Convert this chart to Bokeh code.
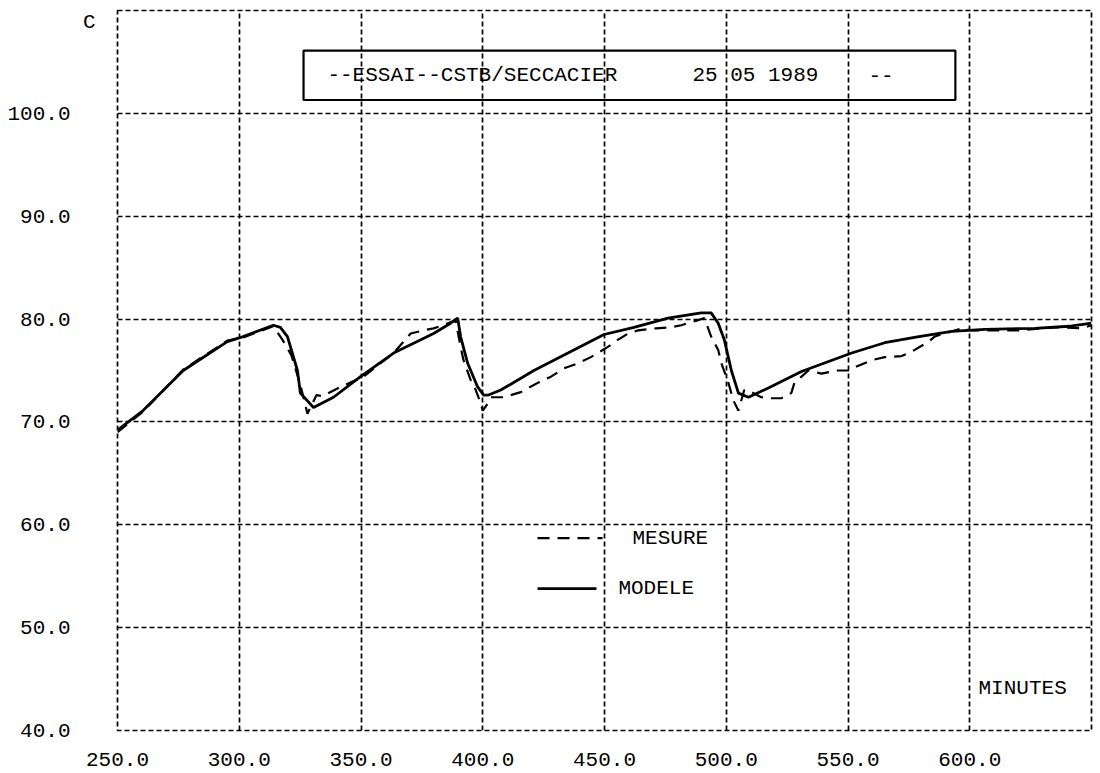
from bokeh.plotting import figure
from bokeh.models import FixedTicker, Label, BoxAnnotation, Range1d, LinearAxis
from bokeh.embed import file_html
from bokeh.resources import INLINE

# ---------------- data ----------------
minutes_modele = [250.0, 260.5, 277.0, 295.1, 301.6, 314.0, 316.9, 319.8, 323.9, 325.1,
                  330.5, 338.7, 349.8, 363.4, 379.8, 386.8, 389.7, 390.9, 393.8, 397.9,
                  400.4, 402.1, 407.4, 421.0, 435.0, 449.8, 462.1, 476.1, 489.7, 493.8,
                  496.7, 499.2, 502.1, 505.0, 509.1, 517.3, 530.9, 551.5, 565.1, 579.1,
                  592.6, 606.2, 626.8, 640.8, 650.0]
temp_modele = [69.2, 71.1, 75.0, 77.8, 78.3, 79.4, 79.2, 78.3, 75.0, 72.8,
               71.4, 72.4, 74.4, 76.7, 78.6, 79.6, 80.1, 78.3, 75.7, 73.4,
               72.6, 72.6, 73.1, 75.0, 76.7, 78.5, 79.2, 80.1, 80.6, 80.6,
               79.6, 78.0, 75.0, 72.8, 72.4, 73.3, 74.9, 76.7, 77.7, 78.3,
               78.8, 79.0, 79.1, 79.3, 79.6]

minutes_mesure = [250.0, 260.5, 277.0, 286.0, 295.1, 301.6, 314.0, 317.7, 321.4, 325.1,
                  328.0, 331.7, 334.2, 341.6, 351.0, 363.4, 370.4, 375.7, 379.8, 383.9,
                  386.8, 388.9, 390.9, 392.1, 395.0, 396.3, 399.2, 400.0, 402.1, 403.3,
                  408.6, 415.6, 422.6, 428.0, 433.3, 439.1, 444.4, 451.4, 455.6, 459.7,
                  463.8, 471.2, 477.4, 481.5, 488.5, 491.0, 493.8, 496.7, 498.0, 500.9,
                  502.9, 505.0, 507.4, 510.3, 514.4, 518.5, 522.6, 526.7, 528.0, 530.9,
                  533.7, 539.1, 545.3, 550.2, 552.7, 559.7, 565.1, 572.0, 577.4, 583.1,
                  585.6, 596.7, 600.8, 613.2, 620.2, 635.0, 646.1, 650.0]
temp_mesure = [69.0, 71.0, 75.1, 76.5, 77.9, 78.2, 79.3, 78.0, 76.5, 73.6,
               70.8, 72.6, 72.5, 73.4, 74.4, 76.7, 78.6, 78.9, 79.1, 79.4,
               79.7, 79.8, 77.3, 76.0, 74.1, 73.6, 71.8, 71.1, 71.8, 72.4,
               72.4, 72.9, 73.8, 74.4, 75.2, 75.7, 76.3, 77.3, 78.0, 78.6,
               78.9, 79.1, 79.2, 79.4, 79.9, 80.1, 78.3, 77.0, 75.7, 73.8,
               72.1, 71.1, 73.1, 72.9, 72.4, 72.3, 72.3, 72.8, 73.8, 74.4,
               75.0, 74.7, 75.0, 75.0, 75.3, 76.0, 76.3, 76.4, 77.0, 77.8,
               78.3, 79.1, 78.9, 78.9, 78.9, 79.2, 79.1, 79.4]

x_ticks = [250, 300, 350, 400, 450, 500, 550, 600]
x_tick_labels = ["250.0", "300.0", "350.0", "400.0", "450.0", "500.0", "550.0", "600.0"]
x_grid = [300, 350, 400, 450, 500, 550, 600]
y_ticks = [40, 50, 60, 70, 80, 90, 100]
y_tick_labels = ["40.0", "50.0", "60.0", "70.0", "80.0", "90.0", "100.0"]
y_grid = [50, 60, 70, 80, 90, 100]

title_parts = ["--ESSAI--CSTB/SECCACIER", "25 05 1989", "--"]
legend_names = ["MESURE", "MODELE"]
y_unit = "C"
y_unit_at = 108.8
x_unit = "MINUTES"

# ---------------- layout constants ----------------
FONT = "Liberation Mono"
FS = "21px"
INK = "black"

p = figure(width=1100, height=773, output_backend="svg", toolbar_location=None,
           x_range=Range1d(250, 650), y_range=Range1d(40, 110),
           min_border_left=117, min_border_right=9, min_border_top=10, min_border_bottom=43,
           background_fill_color="white", border_fill_color="white")

p.outline_line_color = INK
p.outline_line_width = 1.7
p.outline_line_dash = "5 3"


def style_axis(ax):
    ax.axis_line_color = None
    ax.major_tick_line_color = None
    ax.minor_tick_line_color = None
    ax.major_tick_out = 0
    ax.major_tick_in = 0
    ax.major_label_text_font = FONT
    ax.major_label_text_font_size = FS
    ax.major_label_text_color = INK


xax = p.xaxis[0]
style_axis(xax)
xax.ticker = FixedTicker(ticks=x_ticks)
xax.major_label_overrides = {t: s for t, s in zip(x_ticks, x_tick_labels)}
xax.major_label_text_align = "left"
xax.major_label_standoff = 22

yax = p.yaxis[0]
style_axis(yax)
yax.ticker = FixedTicker(ticks=y_ticks)
yax.major_label_overrides = {t: s for t, s in zip(y_ticks, y_tick_labels)}
yax.major_label_standoff = 9

# unit "C" on its own inner axis (closest to the frame)
cax = LinearAxis()
style_axis(cax)
cax.ticker = FixedTicker(ticks=[y_unit_at])
cax.major_label_overrides = {y_unit_at: y_unit}
cax.major_label_standoff = 22
p.left = [cax, yax]

p.xgrid[0].ticker = FixedTicker(ticks=x_grid)
p.ygrid[0].ticker = FixedTicker(ticks=y_grid)
for g in (p.xgrid[0], p.ygrid[0]):
    g.grid_line_color = INK
    g.grid_line_width = 1.7
    g.grid_line_dash = "5 3"
    g.grid_line_alpha = 1.0

# curves
p.line(minutes_mesure, temp_mesure, line_color=INK, line_width=2.2, line_dash="12 8")
p.line(minutes_modele, temp_modele, line_color=INK, line_width=2.8)

# title box
p.add_layout(BoxAnnotation(left=326.4, right=594.1, top=106.1, bottom=101.3,
                           fill_color=None, fill_alpha=0, line_color=INK, line_alpha=1.0,
                           line_width=2.2))
title_x = [336.2, 486.1, 558.4]
for tx, txt in zip(title_x, title_parts):
    p.add_layout(Label(x=tx, y=103.7, text=txt, text_font=FONT, text_font_size=FS,
                       text_color=INK, text_baseline="middle", text_align="left"))

# legend (drawn by hand like the plotter)
p.line([422.5, 449.2], [58.7, 58.7], line_color=INK, line_width=2.2, line_dash="12 8")
p.line([422.5, 446.7], [53.8, 53.8], line_color=INK, line_width=2.8)
p.add_layout(Label(x=461.5, y=58.7, text=legend_names[0], text_font=FONT, text_font_size=FS,
                   text_color=INK, text_baseline="middle", text_align="left"))
p.add_layout(Label(x=455.7, y=53.8, text=legend_names[1], text_font=FONT, text_font_size=FS,
                   text_color=INK, text_baseline="middle", text_align="left"))

# x unit label
p.add_layout(Label(x=603.6, y=44.1, text=x_unit, text_font=FONT, text_font_size=FS,
                   text_color=INK, text_baseline="middle", text_align="left"))

open("out.html", "w").write(file_html(p, INLINE))
